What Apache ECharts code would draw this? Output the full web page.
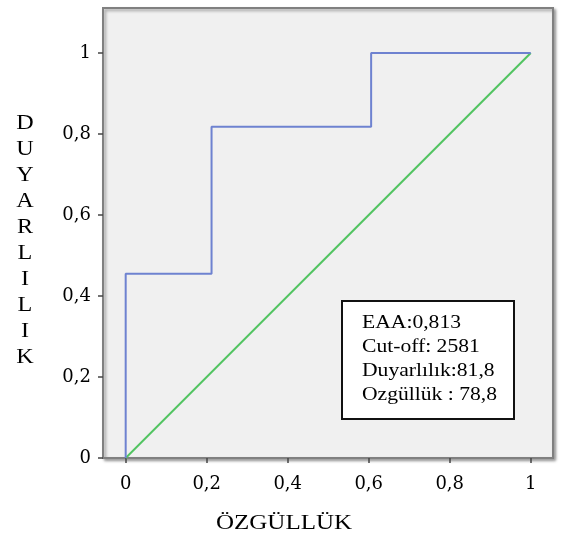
<!DOCTYPE html>
<html>
<head>
<meta charset="utf-8">
<style>
  html, body { margin: 0; padding: 0; background: #fff; }
  #chart { width: 561px; height: 538px; }
</style>
<script src="https://cdn.jsdelivr.net/npm/echarts@6/dist/echarts.min.js"></script>
</head>
<body>
<div id="chart"></div>
<script>
// ROC curve points (1 - specificity, sensitivity)
const rocX = [0, 0, 0.212, 0.212, 0.606, 0.606, 1];
const rocY = [0, 0.455, 0.455, 0.818, 0.818, 1, 1];
const refX = [0, 1];
const refY = [0, 1];
const xTicks = [0, 0.2, 0.4, 0.6, 0.8, 1];
const yTicks = [0, 0.2, 0.4, 0.6, 0.8, 1];
const statLines = ['EAA:0,813', 'Cut-off: 2581', 'Duyarlılık:81,8', 'Ozgüllük : 78,8'];
const xTitle = 'ÖZGÜLLÜK';
const yTitle = 'DUYARLILIK';

const chart = echarts.init(document.getElementById('chart'));

const fmt = v => String(v).replace('.', ',');
const serif = '"Liberation Serif", "Times New Roman", serif';

const axisCommon = {
  type: 'value',
  axisLine: { show: true, onZero: false, lineStyle: { color: '#808080', width: 2 } },
  splitLine: { show: false },
  axisTick: { show: true, length: 5, lineStyle: { color: '#444', width: 1.5 } },
  axisLabel: {
    color: '#000',
    fontFamily: '"DejaVu Serif", serif',
    fontSize: 18,
    formatter: fmt
  }
};

const option = {
  animation: false,
  grid: {
    left: 103, right: 8, top: 8, bottom: 80,
    show: true,
    backgroundColor: '#f0f0f0',
    borderColor: '#808080',
    borderWidth: 2,
    shadowColor: 'rgba(0,0,0,0.35)',
    shadowBlur: 3,
    shadowOffsetX: 2,
    shadowOffsetY: 2
  },
  xAxis: Object.assign({}, axisCommon, {
    min: -0.056, max: 1.055,
    axisTick: Object.assign({}, axisCommon.axisTick, { customValues: xTicks }),
    axisLabel: Object.assign({}, axisCommon.axisLabel, { customValues: xTicks, margin: 17 })
  }),
  yAxis: Object.assign({}, axisCommon, {
    min: 0, max: 1.111,
    axisTick: Object.assign({}, axisCommon.axisTick, { customValues: yTicks }),
    axisLabel: Object.assign({}, axisCommon.axisLabel, { customValues: yTicks, margin: 12 })
  }),
  series: [
    {
      type: 'line',
      data: refX.map((x, i) => [x, refY[i]]),
      symbol: 'none',
      lineStyle: { color: '#52c462', width: 2 },
      z: 2
    },
    {
      type: 'line',
      data: rocX.map((x, i) => [x, rocY[i]]),
      symbol: 'none',
      lineStyle: { color: '#6e82d0', width: 2 },
      z: 3
    }
  ],
  graphic: [
    {
      type: 'text',
      x: 284, y: 524,
      style: {
        text: xTitle,
        fontFamily: serif, fontSize: 20,
        fill: '#000',
        align: 'center', verticalAlign: 'middle'
      },
      scaleX: 1.25,
      originX: 0, originY: 0
    },
    {
      type: 'text',
      x: 25, y: 240,
      style: {
        text: yTitle.split('').join('\n'),
        fontFamily: serif, fontSize: 21,
        lineHeight: 26,
        fill: '#000',
        align: 'center', verticalAlign: 'middle'
      },
      scaleX: 1.15,
      originX: 0, originY: 0
    },
    {
      type: 'group',
      x: 342, y: 301,
      children: [
        {
          type: 'rect',
          shape: { x: 0, y: 0, width: 172, height: 118 },
          style: { fill: '#fff', stroke: '#111', lineWidth: 2 }
        },
        {
          type: 'text',
          x: 20, y: 10,
          style: {
            text: statLines.join('\n'),
            fontFamily: serif, fontSize: 18,
            lineHeight: 24,
            fill: '#000',
            align: 'left', verticalAlign: 'top'
          },
          scaleX: 1.2,
          originX: 0, originY: 0
        }
      ]
    }
  ]
};

chart.setOption(option);
</script>
</body>
</html>
